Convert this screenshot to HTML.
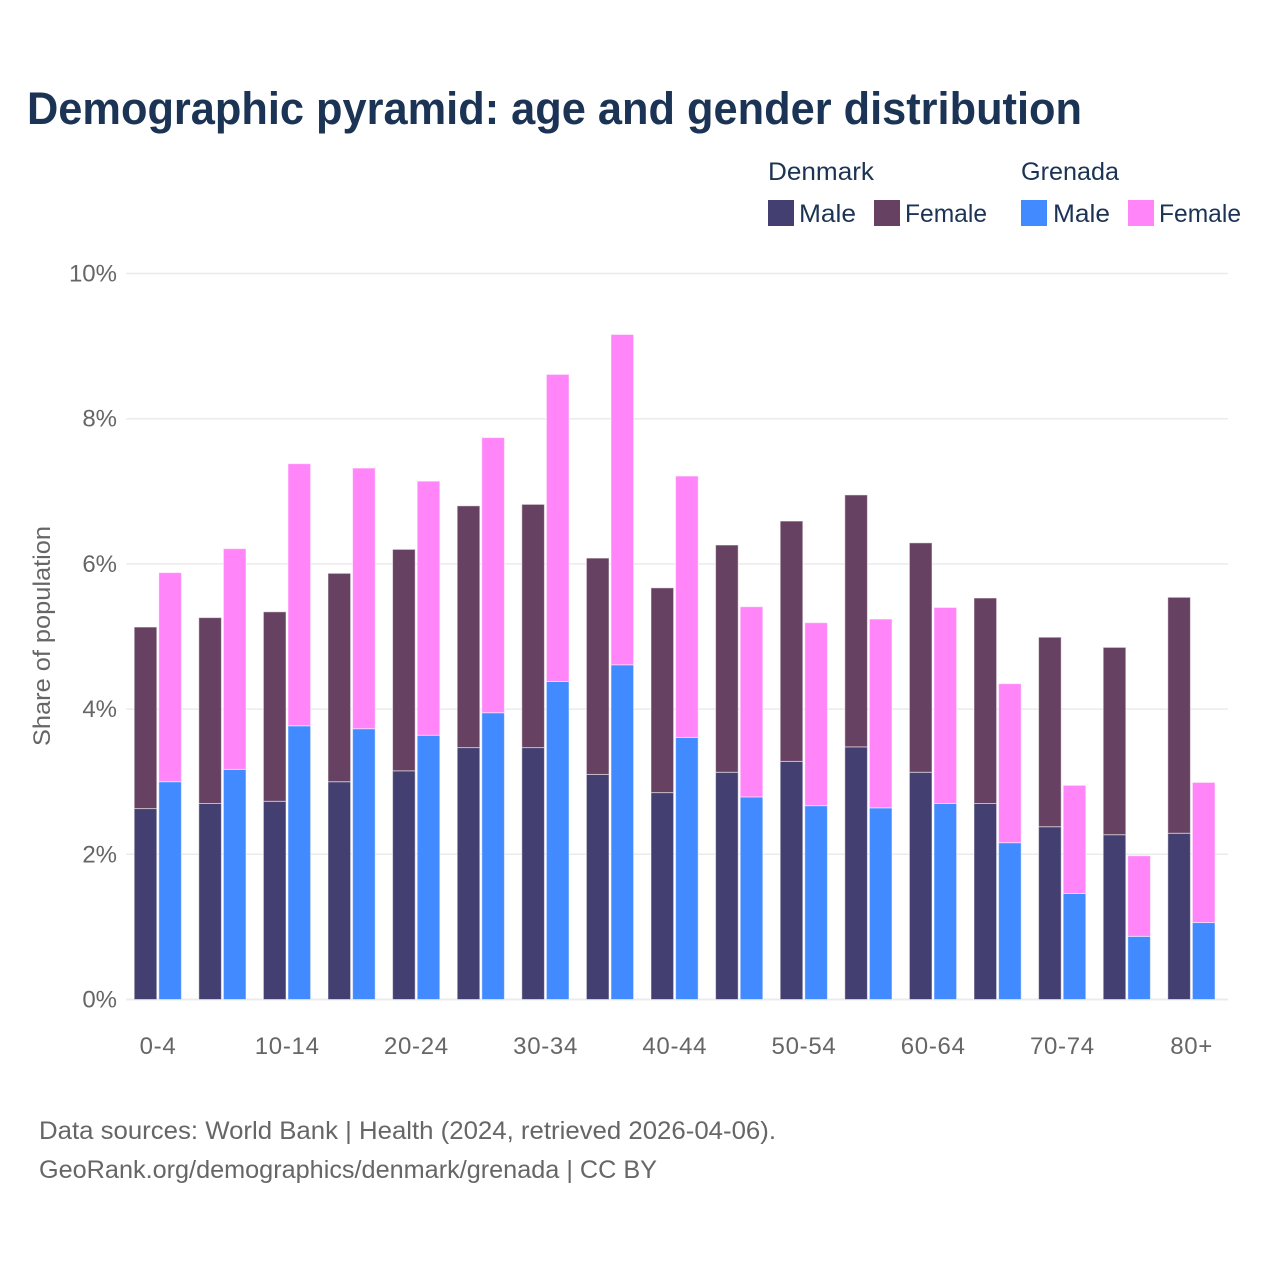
<!DOCTYPE html>
<html lang="en">
<head>
<meta charset="utf-8">
<title>Demographic pyramid</title>
<style>
html,body{margin:0;padding:0;background:#fff;}
svg{display:block;font-family:"Liberation Sans",Arial,sans-serif;}
.legend{fill:#1b3354;font-size:25px;}
.muted{fill:#666666;}
</style>
</head>
<body>
<svg id="chart" xmlns="http://www.w3.org/2000/svg" width="1280" height="1280" viewBox="0 0 1280 1280">
  <rect x="0" y="0" width="1280" height="1280" fill="#ffffff"/>
  <text x="27" y="124" font-size="45" font-weight="700" fill="#1b3354" textLength="1055" lengthAdjust="spacingAndGlyphs">Demographic pyramid: age and gender distribution</text>

  <g>
    <text class="legend" x="768" y="180" textLength="106" lengthAdjust="spacingAndGlyphs">Denmark</text>
    <text class="legend" x="1021" y="180" textLength="98" lengthAdjust="spacingAndGlyphs">Grenada</text>
    <rect x="768" y="200" width="26" height="26" fill="#433f70"/>
    <text class="legend" x="799" y="222" textLength="57" lengthAdjust="spacingAndGlyphs">Male</text>
    <rect x="874" y="200" width="26" height="26" fill="#674161"/>
    <text class="legend" x="905" y="222" textLength="82" lengthAdjust="spacingAndGlyphs">Female</text>
    <rect x="1021" y="200" width="26" height="26" fill="#418aff"/>
    <text class="legend" x="1053" y="222" textLength="57" lengthAdjust="spacingAndGlyphs">Male</text>
    <rect x="1128" y="200" width="26" height="26" fill="#ff85f8"/>
    <text class="legend" x="1159" y="222" textLength="82" lengthAdjust="spacingAndGlyphs">Female</text>
  </g>

  <g id="grid"></g>
  <g id="bars"></g>
  <g id="y-axis"></g>
  <g id="x-axis"></g>

  <text class="muted" x="0" y="0" transform="translate(50,636) rotate(-90)" text-anchor="middle" font-size="24" textLength="220" lengthAdjust="spacingAndGlyphs">Share of population</text>

  <text class="muted" x="39" y="1139" font-size="25" textLength="737" lengthAdjust="spacingAndGlyphs">Data sources: World Bank | Health (2024, retrieved 2026-04-06).</text>
  <text class="muted" x="39" y="1178" font-size="25" textLength="618" lengthAdjust="spacingAndGlyphs">GeoRank.org/demographics/denmark/grenada | CC BY</text>
</svg>
<script>
const categories = ['0-4','5-9','10-14','15-19','20-24','25-29','30-34','35-39','40-44','45-49','50-54','55-59','60-64','65-69','70-74','75-79','80+'];
const denmarkMale = [2.63,2.70,2.73,3.00,3.15,3.47,3.47,3.10,2.85,3.13,3.28,3.48,3.13,2.70,2.38,2.27,2.29];
const denmarkFemale = [2.50,2.56,2.61,2.87,3.05,3.33,3.35,2.98,2.82,3.13,3.31,3.47,3.16,2.83,2.61,2.58,3.25];
const grenadaMale = [3.00,3.17,3.77,3.73,3.64,3.95,4.38,4.61,3.61,2.79,2.67,2.64,2.70,2.16,1.46,0.87,1.06];
const grenadaFemale = [2.88,3.04,3.61,3.59,3.50,3.79,4.23,4.55,3.60,2.62,2.52,2.60,2.70,2.19,1.49,1.11,1.93];
const yTickValues = [0,2,4,6,8,10];
const yTickLabels = ['0%','2%','4%','6%','8%','10%'];

const SVG_NS = 'http://www.w3.org/2000/svg';
const yScale = function (v) { return 999.5 - v * 72.6; };
const groupCenter = function (i) { return 158 + i * 64.6; };
const BAR_W = 22.6;
const COLORS = { dm: '#433f70', df: '#674161', gm: '#418aff', gf: '#ff85f8' };

function make(tag, attrs, parent) {
  const el = document.createElementNS(SVG_NS, tag);
  Object.keys(attrs).forEach(function (k) { el.setAttribute(k, attrs[k]); });
  parent.appendChild(el);
  return el;
}

const grid = document.getElementById('grid');
const yAxis = document.getElementById('y-axis');
yTickValues.forEach(function (v, i) {
  const line = make('line', { x1: 126, x2: 1228, y1: yScale(v), y2: yScale(v), stroke: '#ebebeb', 'stroke-width': v === 0 ? 2 : 1.5 }, grid);
  
  
  const label = make('text', { x: 117, y: yScale(v) + 8, 'text-anchor': 'end', 'font-size': 24, fill: '#666666' }, yAxis);
  label.textContent = yTickLabels[i];
  
  
});

const bars = document.getElementById('bars');
function segment(x, bottom, value, color) {
  const top = bottom + value;
  return make('rect', {
    x: x, y: yScale(top), width: BAR_W, height: yScale(bottom) - yScale(top),
    fill: color, stroke: '#ffffff', 'stroke-opacity': 0.5, 'stroke-width': 1
  }, bars);
}
categories.forEach(function (cat, i) {
  const c = groupCenter(i);
  const xD = c - 23.8;
  const xG = c + 0.8;
  const dm = segment(xD, 0, denmarkMale[i], COLORS.dm);
  
  
  const df = segment(xD, denmarkMale[i], denmarkFemale[i], COLORS.df);
  
  
  const gm = segment(xG, 0, grenadaMale[i], COLORS.gm);
  
  
  const gf = segment(xG, grenadaMale[i], grenadaFemale[i], COLORS.gf);
  
  
});

const xAxis = document.getElementById('x-axis');
categories.forEach(function (cat, i) {
  if (i % 2 !== 0) { return; }
  const t = make('text', { x: groupCenter(i), y: 1054, 'text-anchor': 'middle', 'font-size': 24, 'letter-spacing': 0.7, fill: '#666666' }, xAxis);
  t.textContent = cat;
  
  
});
</script>
</body>
</html>
